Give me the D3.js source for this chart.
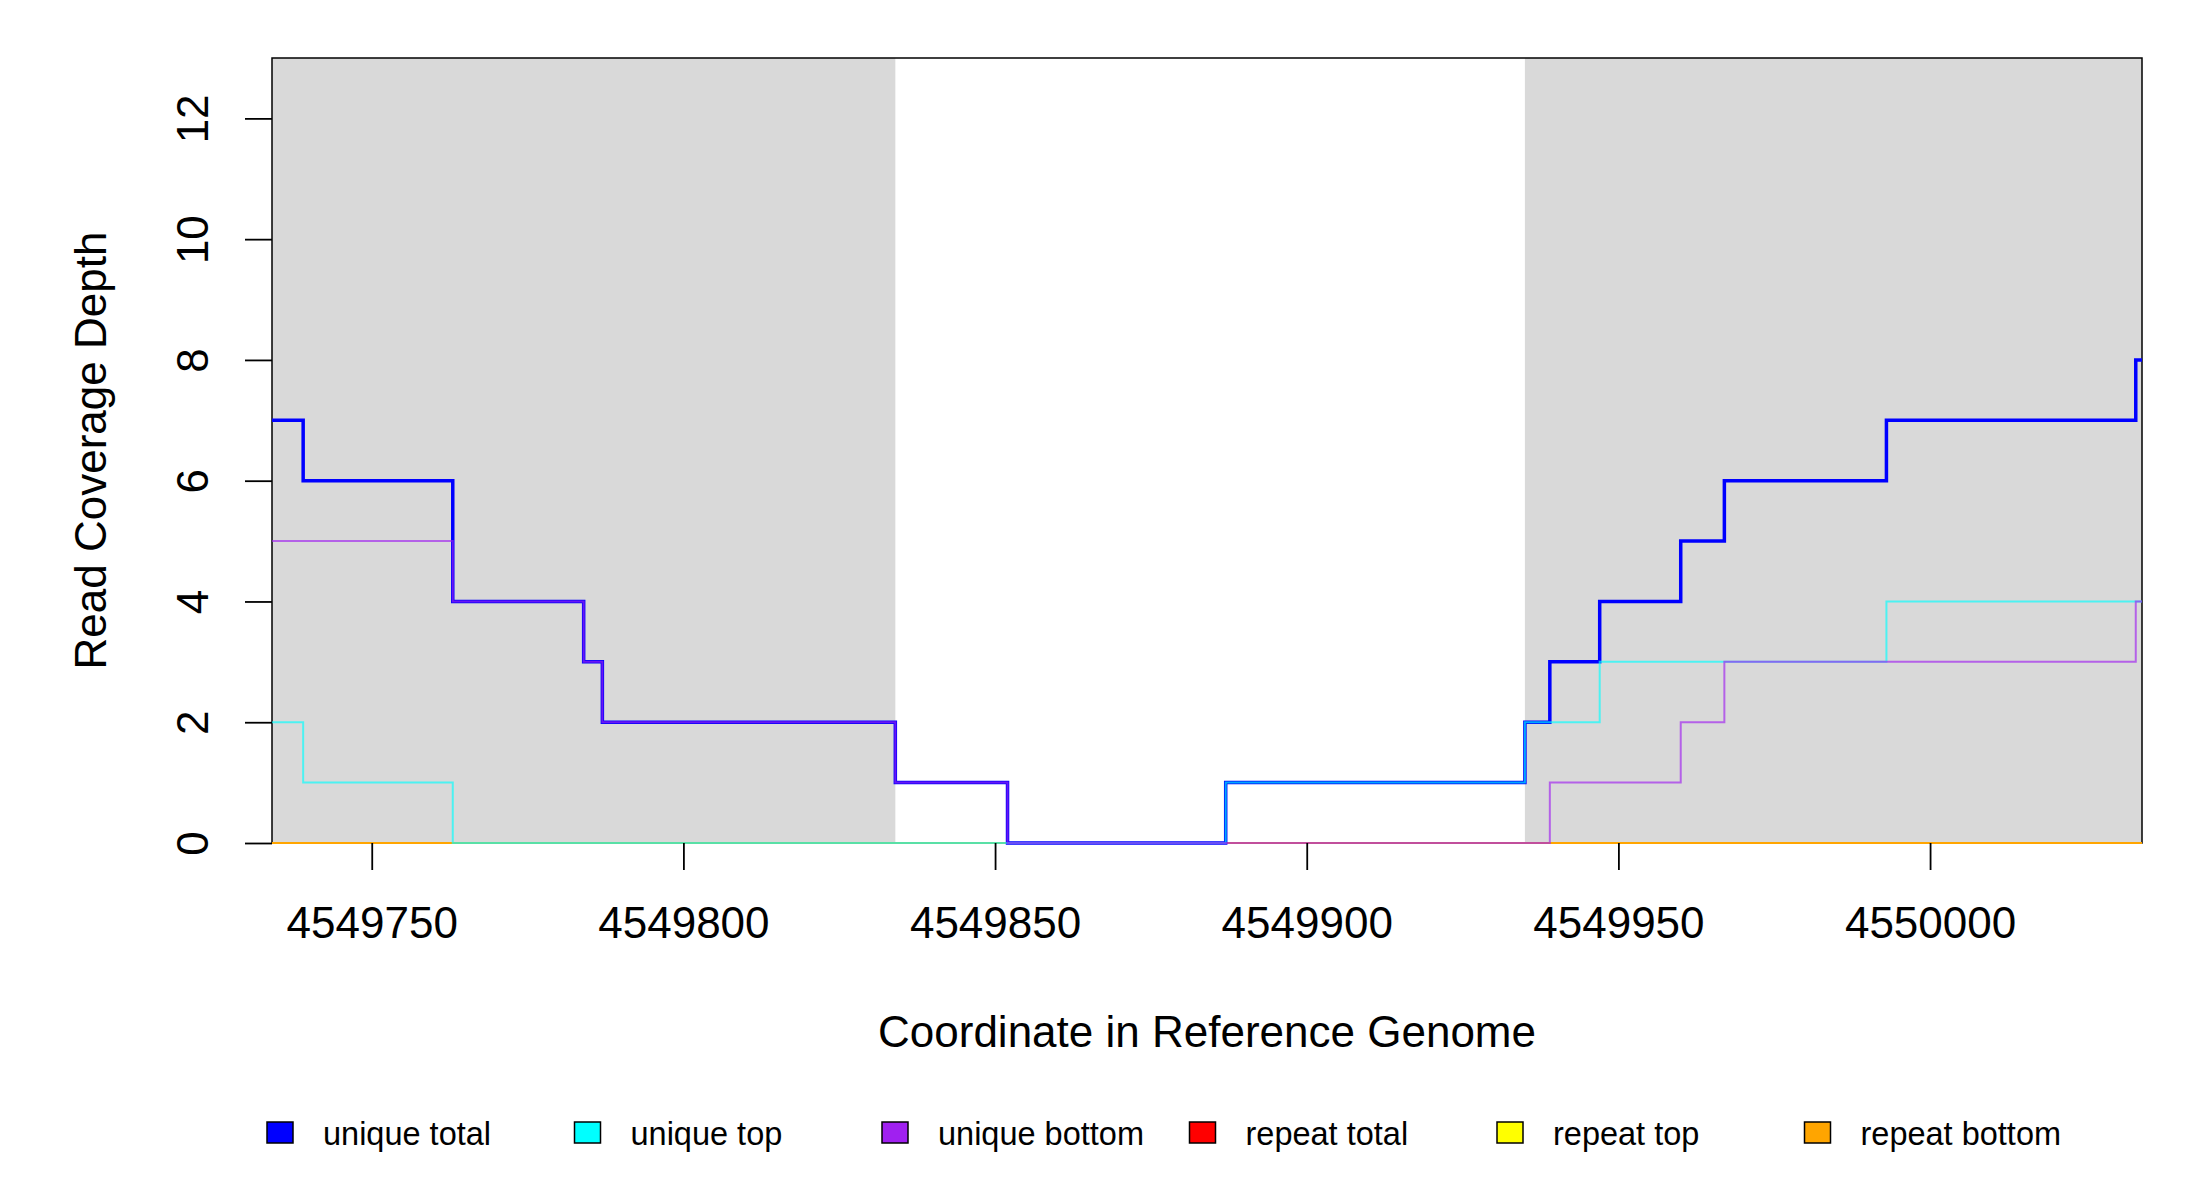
<!DOCTYPE html>
<html>
<head>
<meta charset="utf-8">
<script src="https://cdn.jsdelivr.net/npm/d3@7"></script>
<style>
  body { margin: 0; background: #fff; }
  text { font-family: "Liberation Sans", Arial, sans-serif; fill: #000; }
</style>
</head>
<body>
<div id="chart"></div>
<script>
// window shown on the x axis
var xRange = [4549734, 4550034];
var yRange = [0, 13];

// shaded (grey) intervals
var shaded = [[4549734, 4549834], [4549935, 4550034]];

// step series: [start coordinate, depth]
var uniqueTotal = [[4549734, 7], [4549739, 6], [4549763, 4], [4549784, 3], [4549787, 2],
  [4549834, 1], [4549852, 0], [4549887, 1], [4549935, 2], [4549939, 3], [4549947, 4],
  [4549960, 5], [4549967, 6], [4549993, 7], [4550033, 8]];
var uniqueTop = [[4549734, 2], [4549739, 1], [4549763, 0], [4549887, 1], [4549935, 2],
  [4549947, 3], [4549993, 4]];
var uniqueBottom = [[4549734, 5], [4549763, 4], [4549784, 3], [4549787, 2], [4549834, 1],
  [4549852, 0], [4549939, 1], [4549960, 2], [4549967, 3], [4550033, 4]];
var repeatTotal = [[4549734, 0]];
var repeatTop = [[4549734, 0]];
var repeatBottom = [[4549734, 0]];

var xTicks = [4549750, 4549800, 4549850, 4549900, 4549950, 4550000];
var yTicks = [0, 2, 4, 6, 8, 10, 12];

var legendLabels = ["unique total", "unique top", "unique bottom", "repeat total", "repeat top", "repeat bottom"];
var legendColors = ["#0000ff", "#00ffff", "#a020f0", "#ff0000", "#ffff00", "#ffa500"];

var w = 2200,
  h = 1200;
var plotLeft = 272, plotRight = 2142, plotTop = 58, plotBottom = 843;

var svg = d3.select("#chart")
          .append("svg")
          .attr("width", w)
          .attr("height", h);

var x = d3.scaleLinear().domain(xRange).range([plotLeft, plotRight]);
var y = d3.scaleLinear().domain(yRange).range([plotBottom, plotTop]);

// grey background bands
svg.selectAll("rect.band")
   .data(shaded)
   .enter()
   .append("rect")
   .attr("class", "band")
   .attr("x", function(d) { return x(d[0]); })
   .attr("width", function(d) { return x(d[1]) - x(d[0]); })
   .attr("y", plotTop)
   .attr("height", plotBottom - plotTop)
   .attr("fill", "#d9d9d9");

// plot box
svg.append("rect")
   .attr("x", plotLeft).attr("y", plotTop)
   .attr("width", plotRight - plotLeft).attr("height", plotBottom - plotTop)
   .attr("fill", "none")
   .attr("stroke", "#000")
   .attr("stroke-width", 1.5);

var line = d3.line()
           .x(function(d) { return x(d[0]); })
           .y(function(d) { return y(d[1]); })
           .curve(d3.curveStepAfter);

function withEnd(steps) {
  return steps.concat([[xRange[1], steps[steps.length - 1][1]]]);
}

// repeats first, uniques over them
var series = [
  { data: repeatTotal, color: "#ff0000", width: 2, alpha: 1 },
  { data: repeatTop, color: "#ffff00", width: 2, alpha: 1 },
  { data: repeatBottom, color: "#ffa500", width: 2, alpha: 1 },
  { data: uniqueTotal, color: "#0000ff", width: 3.5, alpha: 1 },
  { data: uniqueTop, color: "#00ffff", width: 2, alpha: 0.65 },
  { data: uniqueBottom, color: "#a020f0", width: 2, alpha: 0.65 }
];

svg.selectAll("path.series")
   .data(series)
   .enter()
   .append("path")
   .attr("class", "series")
   .attr("d", function(d) { return line(withEnd(d.data)); })
   .attr("fill", "none")
   .attr("stroke", function(d) { return d.color; })
   .attr("stroke-opacity", function(d) { return d.alpha; })
   .attr("stroke-width", function(d) { return d.width; });

// x axis
var xAxis = svg.append("g")
   .attr("transform", "translate(0," + plotBottom + ")")
   .call(d3.axisBottom(x).tickValues(xTicks).tickSize(27).tickPadding(0).tickFormat(d3.format("d")));
xAxis.select(".domain").remove();
xAxis.selectAll(".tick line").attr("stroke", "#000").attr("stroke-width", 1.8);
xAxis.selectAll(".tick text")
     .attr("y", 95)
     .attr("dy", null)
     .attr("font-size", 44)
     .attr("fill", "#000")
     .style("font-family", "Liberation Sans, Arial, sans-serif");

// y axis
var yAxis = svg.append("g")
   .attr("transform", "translate(" + plotLeft + ",0)")
   .call(d3.axisLeft(y).tickValues(yTicks).tickSize(27));
yAxis.select(".domain").remove();
yAxis.selectAll(".tick line").attr("stroke", "#000").attr("stroke-width", 1.8);
yAxis.selectAll(".tick text")
     .attr("x", null).attr("dy", null)
     .attr("transform", "translate(-64,0) rotate(-90)")
     .attr("text-anchor", "middle")
     .attr("font-size", 44)
     .attr("fill", "#000")
     .style("font-family", "Liberation Sans, Arial, sans-serif");

// axis titles
svg.append("text")
   .attr("x", (plotLeft + plotRight) / 2)
   .attr("y", 1047)
   .attr("text-anchor", "middle")
   .attr("font-size", 44)
   .text("Coordinate in Reference Genome");

svg.append("text")
   .attr("transform", "translate(106," + (plotTop + plotBottom) / 2 + ") rotate(-90)")
   .attr("text-anchor", "middle")
   .attr("font-size", 44)
   .text("Read Coverage Depth");

// legend
var legend = svg.selectAll("g.legend")
   .data(legendLabels)
   .enter()
   .append("g")
   .attr("class", "legend")
   .attr("transform", function(d, i) { return "translate(" + (267 + i * 307.5) + ",1122)"; });

legend.append("rect")
   .attr("width", 26)
   .attr("height", 21)
   .attr("fill", function(d, i) { return legendColors[i]; })
   .attr("stroke", "#000")
   .attr("stroke-width", 1.5);

legend.append("text")
   .attr("x", 56)
   .attr("y", 23)
   .attr("font-size", 32.5)
   .text(function(d) { return d; });
</script>
</body>
</html>
